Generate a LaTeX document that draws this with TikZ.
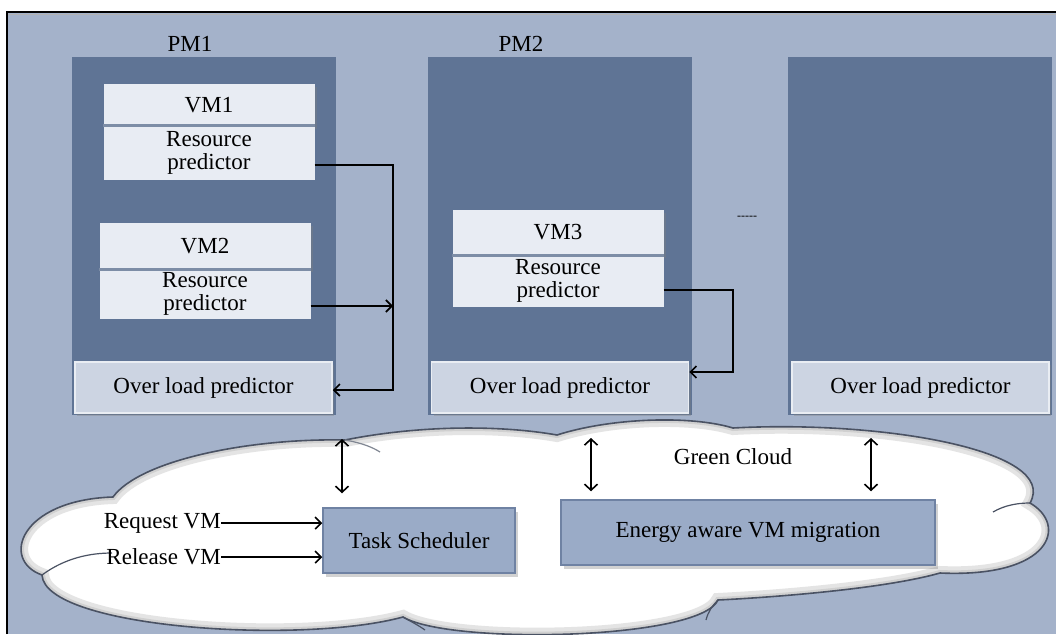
\documentclass[tikz,border=0pt]{standalone}
\usepackage{fontspec}
\setmainfont{Liberation Serif}
\newfontfamily\diagserif{Liberation Serif}
\usetikzlibrary{arrows.meta,shadows}
\definecolor{bgc}{HTML}{A4B2CA}
\definecolor{pmc}{HTML}{5F7495}
\definecolor{vmc}{HTML}{E8ECF3}
\definecolor{divc}{HTML}{7D8DA6}
\definecolor{olpc}{HTML}{CCD4E2}
\definecolor{olpb}{HTML}{E9EDF3}
\definecolor{tsc}{HTML}{9AABC7}
\definecolor{tsb}{HTML}{6F82A3}
\definecolor{cloudline}{HTML}{4A5263}
\tikzset{
  txt/.style={font=\diagserif\fontsize{23}{23}\selectfont, text=black},
  pmbox/.style={fill=pmc, draw=none, minimum width=264pt, minimum height=358pt, inner sep=0pt},
  vmhead/.style={txt, fill=vmc, draw=none, minimum width=211pt, inner sep=0pt, drop shadow={opacity=0.35,shadow xshift=2pt,shadow yshift=-3pt}},
  vmbody/.style={txt, fill=vmc, draw=none, minimum width=211pt, inner sep=0pt, align=center},
  olp/.style={txt, fill=olpc, draw=olpb, line width=1.5pt, minimum width=257pt, minimum height=51pt, inner sep=0pt, drop shadow={opacity=0.35,shadow xshift=2pt,shadow yshift=-3pt}},
  sched/.style={txt, fill=tsc, draw=tsb, line width=1.5pt, minimum height=65pt, inner sep=0pt, drop shadow={opacity=0.35,shadow xshift=3pt,shadow yshift=-4pt}},
  arr/.style={draw=black, line width=1.8pt, -{Straight Barb[length=6pt,width=12pt,line width=1.6pt]}},
  darr/.style={draw=black, line width=1.8pt, {Straight Barb[length=6pt,width=13pt,line width=1.6pt]}-{Straight Barb[length=6pt,width=13pt,line width=1.6pt]}},
  divline/.style={draw=divc, line width=3pt}
}
\def\cloudpath{(113,497) .. controls (140,460) and (250,438) .. (345,440)
  .. controls (420,425) and (500,425) .. (557,435)
  .. controls (610,418) and (690,415) .. (733,428)
  .. controls (880,420) and (1060,450) .. (1030,503)
  .. controls (1068,525) and (1052,578) .. (940,573)
  .. controls (880,590) and (760,598) .. (718,600)
  .. controls (700,640) and (450,645) .. (403,617)
  .. controls (300,645) and (45,628) .. (42,575)
  .. controls (0,560) and (20,500) .. (113,497) -- cycle}
\begin{document}
\begin{tikzpicture}[x=1pt,y=-1pt]
\useasboundingbox (0,0) rectangle (1056,634);
\fill[white] (0,0) rectangle (1056,634);
\fill[bgc] (7,12) rectangle (1056,634);
\draw[black, line width=1.5pt] (7,634) -- (7,12) -- (1056,12);
\draw[gray!60, line width=1.5pt] (8,14.5) -- (1056,14.5);

% Physical machines
\node[pmbox] (pm1) at (204,236) {};
\node[pmbox] (pm2) at (560,236) {};
\node[pmbox] (pm3) at (920,236) {};
\node[txt] (pm1l) at (190,44) {PM1};
\node[txt] (pm2l) at (521,44) {PM2};

% VMs
\node[vmhead, minimum height=42pt] (vm1) at (209,105) {VM1};
\node[vmbody, minimum height=54pt] (rp1) at (209,153) {Resource\\predictor};
\draw[divline] (rp1.north west) -- (rp1.north east);
\node[vmhead, minimum height=46pt] (vm2) at (205,246) {VM2};
\node[vmbody, minimum height=49pt] (rp2) at (205,294) {Resource\\predictor};
\draw[divline] (rp2.north west) -- (rp2.north east);
\node[vmhead, minimum height=45pt] (vm3) at (558,232) {VM3};
\node[vmbody, minimum height=51pt] (rp3) at (558,281) {Resource\\predictor};
\draw[divline] (rp3.north west) -- (rp3.north east);

% Overload predictors
\node[olp] (olp1) at (203.5,387.5) {Over load predictor};
\node[olp] (olp2) at (560,387.5) {Over load predictor};
\node[olp] (olp3) at (920.5,387.5) {Over load predictor};

\node[font=\diagserif\fontsize{12}{12}\selectfont] (dots) at (747,218) {-{}-{}-{}-{}-};

% Arrows from resource predictors
\coordinate (k1) at (393,165);
\coordinate (k2) at (393,306);
\coordinate (k3) at (393,390);
\draw[line width=1.8pt] (rp1.east |- k1) -- (k1) -- (k2);
\draw[arr] (k2) -- (k3) -- (olp1.east |- k3);
\draw[arr] (rp2.east |- k2) -- (k2);
\coordinate (m1) at (733,290);
\coordinate (m2) at (733,372);
\draw[arr] (rp3.east |- m1) -- (m1) -- (m2) -- (olp2.east |- m2);

% Cloud
\fill[white] \cloudpath;
\begin{scope}
  \clip \cloudpath;
  \draw[gray!60, line width=14pt, opacity=0.35] \cloudpath;
  \draw[gray!60, line width=6pt, opacity=0.4] \cloudpath;
\end{scope}
\draw[cloudline, line width=1.6pt] \cloudpath;
\draw[cloudline!70, line width=1.2pt] (345,440) .. controls (362,443) and (372,447) .. (380,452);
\draw[cloudline, line width=1.2pt] (42,575) .. controls (65,558) and (90,553) .. (112,553);
\draw[cloudline, line width=1.2pt] (993,512) .. controls (1005,505) and (1018,503) .. (1030,503);
\draw[cloudline, line width=1.2pt] (718,600) .. controls (712,606) and (708,612) .. (706,620);
\draw[cloudline, line width=1.2pt] (403,617) .. controls (410,621) and (418,625) .. (425,630);

\node[txt] (green) at (733,457) {Green Cloud};

\node[sched, minimum width=192pt] (ts) at (419,540.5) {Task Scheduler};
\node[sched, minimum width=374pt] (ev) at (748,532.5) {Energy aware VM migration};

\node[txt, anchor=east, inner sep=0pt] (req) at (221,523) {Request VM};
\node[txt, anchor=east, inner sep=0pt] (rel) at (221,557) {Release VM};
\draw[arr] (req.east) -- (req.east -| ts.west);
\draw[arr] (rel.east) -- (rel.east -| ts.west);

% Double arrows
\coordinate (d1) at (342,439);
\coordinate (d2) at (591,438);
\coordinate (d3) at (871,438);
\draw[darr] (d1) -- ([yshift=14pt]d1 |- ts.north);
\draw[darr] (d2) -- ([yshift=8pt]d2 |- ev.north);
\draw[darr] (d3) -- ([yshift=8pt]d3 |- ev.north);
\end{tikzpicture}
\end{document}
